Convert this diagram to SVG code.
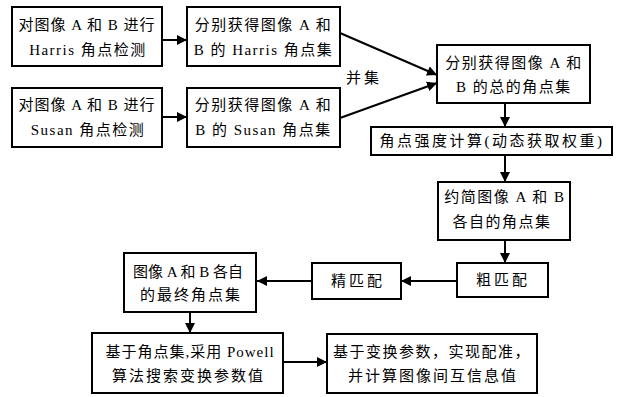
<svg xmlns="http://www.w3.org/2000/svg" width="621" height="397" viewBox="0 0 621 397">
<defs>
<marker id="ah" viewBox="0 0 10 10" refX="10" refY="5" markerWidth="10" markerHeight="10" markerUnits="userSpaceOnUse" orient="auto">
<path d="M0,0 L10,5 L0,10 z" fill="#000"/>
</marker>
</defs>
<style>
rect{fill:#fff;stroke:#000;stroke-width:2}
text{font-family:"Liberation Serif","Noto Sans CJK SC",serif;font-size:15px;fill:#000;text-anchor:middle}
.a{letter-spacing:1px}
.b{letter-spacing:1.5px}
.d{letter-spacing:2px}
.e{letter-spacing:2.5px}
.f{letter-spacing:3px}
.c line{stroke:#000;stroke-width:2;marker-end:url(#ah)}
</style>
<rect x="0" y="0" width="621" height="397" style="stroke:none"/>
<g id="n1"><rect x="12" y="7" width="150" height="59"/><text class="a" x="87" y="30">对图像 A 和 B 进行</text><text class="b" x="88" y="55">Harris 角点检测</text></g>
<g id="n2"><rect x="187" y="7" width="153" height="59"/><text class="b" x="263.5" y="30">分别获得图像 A 和</text><text class="b" x="263.5" y="55">B 的 Harris 角点集</text></g>
<g id="n3"><rect x="12" y="88" width="150" height="59"/><text class="a" x="87" y="110">对图像 A 和 B 进行</text><text class="b" x="88" y="135">Susan 角点检测</text></g>
<g id="n4"><rect x="187" y="88" width="153" height="59"/><text class="b" x="263.5" y="110">分别获得图像 A 和</text><text class="b" x="263.5" y="135">B 的 Susan 角点集</text></g>
<g id="lbl"><text class="f" x="364" y="83">并集</text></g>
<g id="n5"><rect x="437" y="45" width="153" height="58"/><text class="b" x="514" y="68">分别获得图像 A 和</text><text class="b" x="514" y="92">B 的总的角点集</text></g>
<g id="n6"><rect x="371" y="127" width="241" height="28"/><text class="e" x="492" y="146">角点强度计算(动态获取权重)</text></g>
<g id="n7"><rect x="438" y="182" width="132" height="58"/><text class="b" x="505" y="202">约简图像 A 和 B</text><text class="b" x="502" y="227">各自的角点集</text></g>
<g id="n8"><rect x="457" y="263" width="91" height="34"/><text class="f" x="503" y="285">粗匹配</text></g>
<g id="n9"><rect x="312" y="263" width="89" height="36"/><text class="f" x="358" y="286">精匹配</text></g>
<g id="n10"><rect x="124" y="253" width="132" height="59"/><text x="188" y="277">图像 A 和 B 各自</text><text class="d" x="191" y="300">的最终角点集</text></g>
<g id="n11"><rect x="92" y="333" width="191" height="60"/><text class="a" x="190" y="357">基于角点集,采用 Powell</text><text class="d" x="188.5" y="381">算法搜索变换参数值</text></g>
<g id="n12"><rect x="327" y="334" width="210" height="59"/><text class="b" x="432" y="357">基于变换参数，实现配准，</text><text class="d" x="433" y="381">并计算图像间互信息值</text></g>
<g id="connectors" class="c">
<line x1="162" y1="40" x2="187" y2="40"/>
<line x1="162" y1="117" x2="187" y2="117"/>
<line x1="340" y1="33" x2="437" y2="75"/>
<line x1="340" y1="118" x2="437" y2="83"/>
<line x1="505" y1="103" x2="505" y2="127"/>
<line x1="505" y1="155" x2="505" y2="182"/>
<line x1="505" y1="240" x2="505" y2="263"/>
<line x1="457" y1="281" x2="401" y2="281"/>
<line x1="312" y1="281" x2="257" y2="281"/>
<line x1="190" y1="312" x2="190" y2="333"/>
<line x1="283" y1="362" x2="327" y2="362"/>
</g>
</svg>
